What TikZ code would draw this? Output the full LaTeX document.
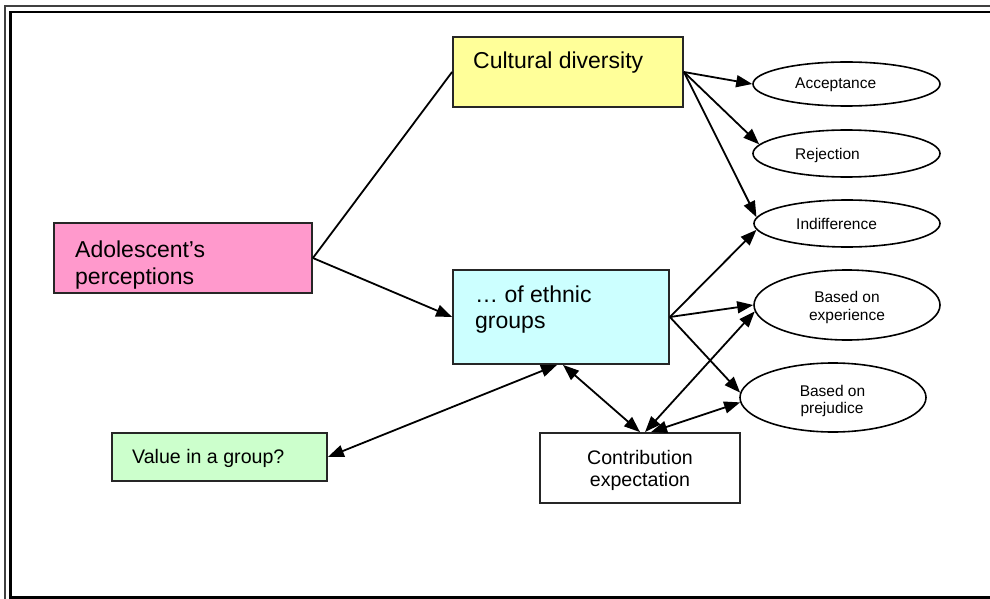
\documentclass[tikz,border=0pt]{standalone}
\usepackage{fontspec}
\setmainfont{Liberation Sans}
\usetikzlibrary{arrows.meta,shapes.geometric}
\definecolor{cyel}{HTML}{FFFF99}
\definecolor{cpink}{HTML}{FF99CC}
\definecolor{ccyan}{HTML}{CCFFFF}
\definecolor{cgreen}{HTML}{CCFFCC}
\begin{document}
\begin{tikzpicture}[x=1pt,y=-1pt,
  box/.style={draw=black!85, line width=1.8pt, rectangle, inner sep=0pt},
  oval/.style={draw=black, line width=1.6pt, ellipse, inner sep=0pt},
  big/.style={font=\fontsize{23}{26}\selectfont, anchor=base west, inner sep=0pt},
  mid/.style={font=\fontsize{19.6}{22}\selectfont, anchor=base, inner sep=0pt},
  small/.style={font=\fontsize{15.5}{18}\selectfont, anchor=base west, inner sep=0pt},
  smallc/.style={small, anchor=base},
  conn/.style={line width=1.8pt, draw=black},
  arr/.style={conn, -{Triangle[length=16pt,width=12pt]}},
  darr/.style={conn, {Triangle[length=16pt,width=12pt]}-{Triangle[length=16pt,width=12pt]}},
  frameout/.style={draw=black!75, line width=2pt},
  framein/.style={draw=black, line width=2.5pt}
]
\useasboundingbox (0,0) rectangle (990,599);
% frame
\draw[frameout] (4.5,600) -- (4.5,6) -- (991,6);
\draw[framein] (991,12) -- (10.5,12) -- (10.5,597.5) -- (991,597.5);

% boxes
\node[box, fill=cyel, minimum width=230pt, minimum height=70pt] (cd) at (568,72) {};
\node[box, fill=cpink, minimum width=258pt, minimum height=70pt] (ad) at (183,258) {};
\node[box, fill=ccyan, minimum width=216pt, minimum height=94pt] (eth) at (561,317) {};
\node[box, fill=cgreen, minimum width=215pt, minimum height=48pt] (val) at (219.5,457) {};
\node[box, fill=white, minimum width=200pt, minimum height=70pt] (ct) at (640,468) {};

% ellipses
\node[oval, minimum width=187pt, minimum height=44pt] (acc) at (846.5,84) {};
\node[oval, minimum width=187pt, minimum height=47pt] (rej) at (846.5,153.5) {};
\node[oval, minimum width=186pt, minimum height=47pt] (ind) at (847,223.5) {};
\node[oval, minimum width=186pt, minimum height=70pt] (exp) at (847,305) {};
\node[oval, minimum width=186pt, minimum height=69pt] (pre) at (833,397.5) {};

% texts
\node[big] (tcd) at (473,69) {Cultural diversity};
\node[big] (tad1) at (75,257) {Adolescent’s};
\node[big] (tad2) at (75,284) {perceptions};
\node[big] (teth1) at (475,302) {… of ethnic};
\node[big] (teth2) at (475,328) {groups};
\node[mid, anchor=base west] (tval) at (132,463) {Value in a group?};
\node[mid] (tct1) at (640,464) {Contribution};
\node[mid] (tct2) at (640,486) {expectation};
\node[small] (tacc) at (795,89) {Acceptance};
\node[small] (trej) at (795,159) {Rejection};
\node[small] (tind) at (796,229) {Indifference};
\node[smallc] (texp1) at (847,302) {Based on};
\node[smallc] (texp2) at (847,320) {experience};
\node[smallc] (tpre1) at (832.5,396) {Based on};
\node[smallc] (tpre2) at (832,413) {prejudice};

% connector end points
\coordinate (ethb1) at ([xshift=-4pt]eth.south);
\coordinate (ethb2) at ([xshift=2pt]eth.south);
\coordinate (ctn1) at ([xshift=0pt]ct.north);
\coordinate (ctn2) at ([xshift=5pt]ct.north);
\coordinate (ctn3) at ([xshift=11pt]ct.north);

% connectors
\draw[conn] (ad.east) -- (cd.west);
\draw[arr] (ad.east) -- (eth.west);
\draw[arr] (cd.east) -- (acc.west);
\draw[arr] (cd.east) -- (rej.174);
\draw[arr] (cd.east) -- (ind.176);
\draw[arr] (eth.east) -- (ind.184);
\draw[arr] (eth.east) -- (exp.west);
\draw[arr] (eth.east) -- (pre.177);
\draw[darr] (val.east) -- (ethb1);
\draw[darr] (ethb2) -- (ctn1);
\draw[darr] (ctn2) -- (exp.184);
\draw[darr] (ctn3) -- (pre.183);
\end{tikzpicture}
\end{document}
